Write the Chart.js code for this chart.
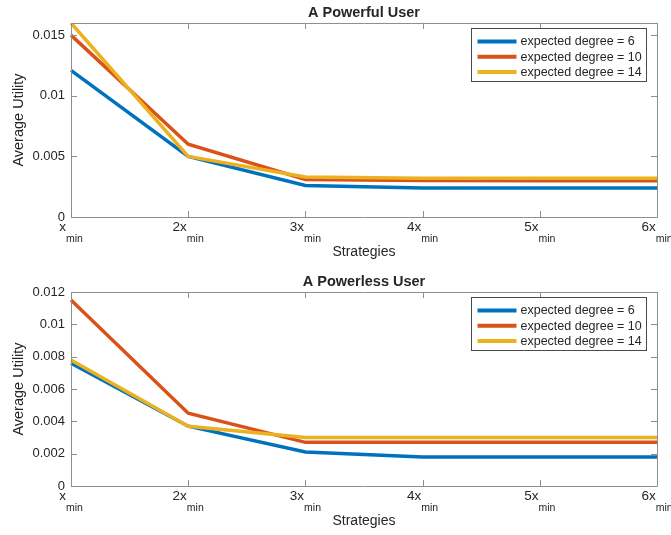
<!DOCTYPE html>
<html>
<head>
<meta charset="utf-8">
<script src="https://cdn.jsdelivr.net/npm/chart.js@4.4.1/dist/chart.umd.min.js"></script>
<style>
  html, body { margin: 0; padding: 0; background: #fff; }
  #wrap { position: relative; width: 671px; height: 535px; }
  .box { position: absolute; left: 0; width: 671px; }
</style>
</head>
<body>
<div id="wrap">
  <div class="box" style="top:0;height:267px"><canvas id="topChart"></canvas></div>
  <div class="box" style="top:267px;height:268px"><canvas id="bottomChart"></canvas></div>
</div>
<script>
// x categories (drawn as "x" + subscript "min")
const strategies = ["x", "2x", "3x", "4x", "5x", "6x"];
const strategySub = "min";
const seriesLabels = ["expected degree = 6", "expected degree = 10", "expected degree = 14"];
const seriesColors = ["#0072BD", "#D95319", "#EDB120"];

// A Powerful User
const powerfulDeg6 = [0.0121, 0.0050, 0.0026, 0.0024, 0.0024, 0.0024];
const powerfulDeg10 = [0.0150, 0.0060, 0.0031, 0.0030, 0.0030, 0.0030];
const powerfulDeg14 = [0.0160, 0.0050, 0.0033, 0.0032, 0.0032, 0.0032];
const powerfulTicks = [0, 0.005, 0.01, 0.015];
const powerfulTickLabels = ["0", "0.005", "0.01", "0.015"];

// A Powerless User
const powerlessDeg6 = [0.0076, 0.0037, 0.0021, 0.0018, 0.0018, 0.0018];
const powerlessDeg10 = [0.0115, 0.0045, 0.0027, 0.0027, 0.0027, 0.0027];
const powerlessDeg14 = [0.0078, 0.0037, 0.0030, 0.0030, 0.0030, 0.0030];
const powerlessTicks = [0, 0.002, 0.004, 0.006, 0.008, 0.01, 0.012];
const powerlessTickLabels = ["0", "0.002", "0.004", "0.006", "0.008", "0.01", "0.012"];

const TEXT = "#262626";
const AXIS = "#8f8f8f";
const FONT = "'Liberation Sans', Arial, sans-serif";

// draws the MATLAB-like box, inner ticks, x labels, titles and legend
const matlabAxes = {
  id: "matlabAxes",
  afterDatasetsDraw(chart, args, opts) {
    const ctx = chart.ctx;
    const a = chart.chartArea;
    const xs = chart.scales.x;
    const ys = chart.scales.y;
    const tl = 6;
    ctx.save();
    ctx.strokeStyle = AXIS;
    ctx.lineWidth = 1;
    ctx.beginPath();
    ctx.rect(Math.round(a.left) + 0.5, Math.round(a.top) + 0.5,
      Math.round(a.right - a.left), Math.round(a.bottom - a.top));
    strategies.forEach((s, i) => {
      const px = Math.round(xs.getPixelForValue(i)) + 0.5;
      ctx.moveTo(px, a.bottom); ctx.lineTo(px, a.bottom - tl);
      ctx.moveTo(px, a.top); ctx.lineTo(px, a.top + tl);
    });
    opts.ticks.forEach(v => {
      const py = Math.round(ys.getPixelForValue(v)) + 0.5;
      ctx.moveTo(a.left, py); ctx.lineTo(a.left + tl, py);
      ctx.moveTo(a.right, py); ctx.lineTo(a.right - tl, py);
    });
    ctx.stroke();

    // x tick labels with subscript
    ctx.fillStyle = TEXT;
    ctx.textBaseline = "alphabetic";
    ctx.textAlign = "left";
    strategies.forEach((s, i) => {
      const px = xs.getPixelForValue(i);
      ctx.font = "13.5px " + FONT;
      const w1 = ctx.measureText(s).width;
      ctx.font = "10.5px " + FONT;
      const w2 = ctx.measureText(strategySub).width;
      const x0 = px - (w1 + w2) / 2;
      ctx.font = "13.5px " + FONT;
      ctx.fillText(s, x0, a.bottom + 13.5);
      ctx.font = "10.5px " + FONT;
      ctx.fillText(strategySub, x0 + w1, a.bottom + 25);
    });

    const cx = (a.left + a.right) / 2;
    ctx.textAlign = "center";
    ctx.font = "14px " + FONT;
    ctx.fillText("Strategies", cx, a.bottom + 39);
    ctx.font = "bold 14.5px " + FONT;
    ctx.fillText(opts.title, cx, a.top - 6);

    ctx.save();
    ctx.translate(19, (a.top + a.bottom) / 2);
    ctx.rotate(-Math.PI / 2);
    ctx.font = "14.5px " + FONT;
    ctx.textBaseline = "middle";
    ctx.fillText("Average Utility", 0, 0);
    ctx.restore();

    // legend
    const lx = 471.5, ly = a.top + 5.5, lw = 175, lh = 53;
    ctx.fillStyle = "#fff";
    ctx.fillRect(lx, ly, lw, lh);
    ctx.strokeStyle = "#4a4a4a";
    ctx.strokeRect(lx, ly, lw, lh);
    ctx.font = "12.5px " + FONT;
    ctx.textAlign = "left";
    ctx.textBaseline = "middle";
    chart.data.datasets.forEach((ds, i) => {
      const ry = ly + 13 + i * 15.3;
      ctx.strokeStyle = ds.borderColor;
      ctx.lineWidth = 4;
      ctx.beginPath();
      ctx.moveTo(lx + 6, ry); ctx.lineTo(lx + 45, ry);
      ctx.stroke();
      ctx.fillStyle = TEXT;
      ctx.fillText(ds.label, lx + 49, ry + 0.5);
    });
    ctx.restore();
  }
};

function makeChart(id, title, series, ticks, tickLabels, yMax, top, xh) {
  new Chart(document.getElementById(id), {
    type: "line",
    data: {
      labels: strategies,
      datasets: series.map((vals, i) => ({
        label: seriesLabels[i],
        data: vals,
        borderColor: seriesColors[i],
        backgroundColor: seriesColors[i],
        borderWidth: 3.5,
        pointRadius: 0,
        tension: 0,
        order: 3 - i
      }))
    },
    options: {
      responsive: true,
      maintainAspectRatio: false,
      animation: false,
      layout: { padding: { top: top, right: 14, left: 0, bottom: 0 } },
      plugins: {
        legend: { display: false },
        tooltip: { enabled: false },
        matlabAxes: { title: title, ticks: ticks }
      },
      scales: {
        x: {
          type: "category",
          offset: false,
          grid: { display: false },
          border: { display: false },
          ticks: { display: false },
          afterFit: s => { s.height = xh; }
        },
        y: {
          min: 0,
          max: yMax,
          grid: { display: false, drawTicks: false },
          border: { display: false },
          afterBuildTicks: s => { s.ticks = ticks.map(v => ({ value: v })); },
          afterFit: s => { s.width = 71; },
          ticks: {
            color: TEXT,
            padding: 6,
            font: { family: FONT, size: 13 },
            callback: v => tickLabels[ticks.indexOf(v)] ?? ""
          }
        }
      }
    },
    plugins: [matlabAxes]
  });
}

makeChart("topChart", "A Powerful User",
  [powerfulDeg6, powerfulDeg10, powerfulDeg14],
  powerfulTicks, powerfulTickLabels, 0.016, 23, 50);
makeChart("bottomChart", "A Powerless User",
  [powerlessDeg6, powerlessDeg10, powerlessDeg14],
  powerlessTicks, powerlessTickLabels, 0.012, 25, 49);
</script>
</body>
</html>
